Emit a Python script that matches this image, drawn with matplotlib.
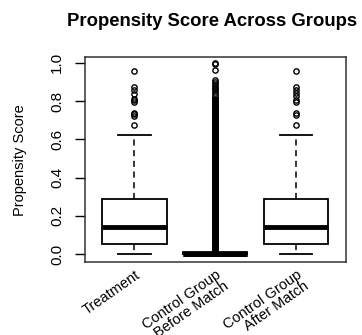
import matplotlib
matplotlib.use('Agg')
import matplotlib.pyplot as plt

plt.rcParams['font.family'] = ['Liberation Sans', 'DejaVu Sans']

groups = ['Treatment', 'Control Group\nBefore Match', 'Control Group\nAfter Match']

# box stats: whislo, q1, med, q3, whishi
treat_stats = [0.0, 0.052, 0.139, 0.287, 0.624]
before_stats = [0.0, 0.0, 0.002, 0.004, 0.010]
after_stats = [0.0, 0.052, 0.139, 0.287, 0.624]

treat_fliers = [0.955, 0.873, 0.855, 0.838, 0.812, 0.805, 0.795, 0.739, 0.730, 0.722, 0.673]
before_fliers = [1.0, 0.993, 0.96, 0.91, 0.90, 0.89, 0.88, 0.87, 0.86, 0.85, 0.84, 0.83]
# the control group before matching has so many outliers they merge into one column
before_dense = (0.012, 0.825)
after_fliers = [0.955, 0.873, 0.859, 0.843, 0.826, 0.804, 0.795, 0.739, 0.725, 0.676]

yticks = [0.0, 0.2, 0.4, 0.6, 0.8, 1.0]


def make_stats(s, fl, label):
    return dict(whislo=s[0], q1=s[1], med=s[2], q3=s[3], whishi=s[4], fliers=fl, label=label)


fig = plt.figure(figsize=(3.62, 3.35), dpi=100)
ax = fig.add_axes([0.235, 0.217, 0.721, 0.613])

stats = [make_stats(treat_stats, treat_fliers, groups[0]),
         make_stats(before_stats, before_fliers, groups[1]),
         make_stats(after_stats, after_fliers, groups[2])]

ax.bxp(stats, positions=[1, 2, 3], widths=0.8, patch_artist=True,
       boxprops=dict(facecolor='white', edgecolor='black', linewidth=1.3),
       medianprops=dict(color='black', linewidth=3.5, solid_capstyle='butt'),
       whiskerprops=dict(color='black', linewidth=1.1, linestyle=(0, (4, 3))),
       capprops=dict(color='black', linewidth=1.3),
       capwidths=[0.4, 0.8, 0.4],
       flierprops=dict(marker='o', markersize=3.8, markerfacecolor='none',
                       markeredgecolor='black', markeredgewidth=1.0))

# dense outlier column
ax.vlines(2, before_dense[0], before_dense[1], color='black', linewidth=5)
# collapsed box for the middle group shows as one heavy bar
ax.hlines(before_stats[0], 2 - 0.4, 2 + 0.4, color='black', linewidth=3.5)

ax.set_xlim(0.39, 3.62)
ax.set_ylim(-0.043, 1.03)
ax.set_yticks(yticks)
ax.set_yticklabels(['%.1f' % v for v in yticks], rotation=90, va='center', fontsize=11)
ax.tick_params(axis='y', length=7, width=1, pad=8)
ax.tick_params(axis='x', length=0, pad=4)
ax.set_xticks([1, 2, 3])
ax.set_xticklabels(groups, rotation=35, ha='right', rotation_mode='anchor',
                   fontsize=10.5, linespacing=0.95)
for sp in ax.spines.values():
    sp.set_linewidth(1.1)
    sp.set_color('#333333')

ax.set_ylabel('Propensity Score', fontsize=10.5, labelpad=17)
fig.text(0.585, 0.937, 'Propensity Score Across Groups', ha='center', va='center',
         fontsize=13.3, fontweight='bold')

fig.savefig('out.png', dpi=100)
